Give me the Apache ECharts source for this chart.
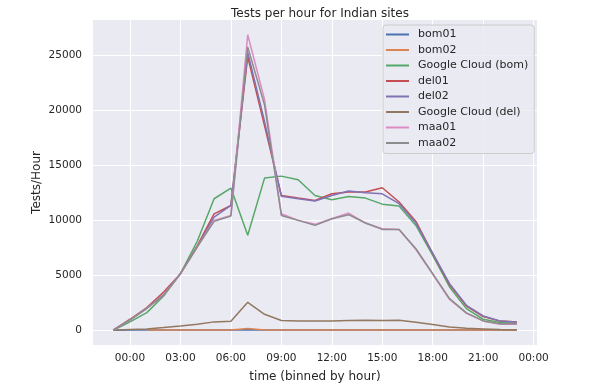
<!DOCTYPE html>
<html>
<head>
<meta charset="utf-8">
<script src="https://cdn.jsdelivr.net/npm/echarts/dist/echarts.min.js"></script>
<style>
html,body{margin:0;padding:0;background:#fff;}
#chart{width:599px;height:392px;}
</style>
</head>
<body>
<div id="chart"></div>
<script>
// Hours (binned): -1 = 23:00 of the previous day
const hours = [-1,0,1,2,3,4,5,6,7,8,9,10,11,12,13,14,15,16,17,18,19,20,21,22,23];
const xTicks = [0,3,6,9,12,15,18,21,24];
const yTicks = [0,5000,10000,15000,20000,25000];

const bom01 = [0,10,20,20,20,20,20,20,40,20,20,20,20,20,20,20,20,20,20,10,10,10,10,10,10];
const bom02 = [null,null,10,10,10,10,10,20,150,30,10,10,10,10,10,10,10,10,10,10,10,10,10,10,10];
const gcBom = [0,760,1600,3120,5150,8100,11970,12940,8640,13850,14030,13700,12270,11880,12180,12030,11480,11300,9545,6820,3940,1970,1000,700,620];
const del01 = [0,1000,2060,3480,5150,7700,10600,11360,24900,18600,12270,12030,11820,12420,12580,12580,12970,11670,9910,6970,4150,2200,1250,830,750];
const del02 = [0,950,2000,3240,5150,7600,10300,11360,25300,19000,12200,11970,11760,12270,12670,12520,12420,11520,9760,7000,4240,2270,1300,850,760];
const gcDel = [0,60,120,240,390,550,760,820,2545,1450,880,850,850,850,880,910,880,910,730,515,300,180,120,60,30];
const maa01 = [0,950,2000,3200,5150,7600,10000,10450,26900,21000,10600,10000,9640,10150,10670,9760,9240,9180,7350,5100,2800,1550,850,550,550];
const maa02 = [0,950,2000,3180,5150,7600,9910,10400,25800,20500,10450,10000,9545,10150,10520,9760,9180,9180,7420,5150,2880,1580,850,600,600];

const seriesNames = ['bom01','bom02','Google Cloud (bom)','del01','del02','Google Cloud (del)','maa01','maa02'];
const seriesData = [bom01,bom02,gcBom,del01,del02,gcDel,maa01,maa02];
const colors = ['#4C72B0','#DD8452','#55A868','#C44E52','#8172B3','#937860','#DA8BC3','#8C8C8C'];

const FONT = 'DejaVu Sans';
const TXT = '#262626';

// matplotlib-style 5% margins
const xMinD = Math.min(...hours), xMaxD = Math.max(...hours);
const xPad = (xMaxD - xMinD) * 0.05;
const allVals = seriesData.flat().filter(v => v !== null);
const yMinD = Math.min(...allVals), yMaxD = Math.max(...allVals);
const yPad = (yMaxD - yMinD) * 0.05;

function fmtHour(h){ const v = ((h % 24) + 24) % 24; return (v < 10 ? '0' : '') + v + ':00'; }

const chart = echarts.init(document.getElementById('chart'), null, {renderer:'canvas'});
chart.setOption({
  animation: false,
  backgroundColor: '#ffffff',
  color: colors,
  title: {
    text: 'Tests per hour for Indian sites',
    left: 315, top: 3, textAlign: 'center',
    textStyle: {fontFamily: FONT, fontSize: 12, fontWeight: 'normal', color: TXT}
  },
  legend: {
    orient: 'vertical', left: 383, top: 25,
    padding: [3, 6, 4, 3],
    backgroundColor: 'rgba(234,234,242,0.8)',
    borderColor: '#cccccc', borderWidth: 1, borderRadius: 3,
    icon: 'rect', itemWidth: 23, itemHeight: 2, itemGap: 2.5,
    textStyle: {fontFamily: FONT, fontSize: 11, color: TXT, lineHeight: 13, padding: [0,0,0,4]},
    data: seriesNames
  },
  grid: {left: 93, right: 62, top: 20, bottom: 47, show: true, backgroundColor: '#EAEAF2', borderWidth: 0, containLabel: false},
  xAxis: {
    type: 'value', min: xMinD - xPad, max: xMaxD + xPad,
    name: 'time (binned by hour)', nameLocation: 'middle', nameGap: 26,
    nameTextStyle: {fontFamily: FONT, fontSize: 12, color: TXT},
    axisLine: {show: false},
    axisTick: {show: false, customValues: xTicks},
    axisLabel: {customValues: xTicks, formatter: v => fmtHour(v), fontFamily: FONT, fontSize: 10.5, color: TXT, margin: 8},
    splitLine: {show: true, lineStyle: {color: '#ffffff', width: 1}}
  },
  yAxis: {
    type: 'value', min: yMinD - yPad, max: yMaxD + yPad,
    name: 'Tests/Hour', nameLocation: 'middle', nameGap: 50, nameMoveOverlap: false,
    nameTextStyle: {fontFamily: FONT, fontSize: 12, color: TXT},
    axisLine: {show: false},
    axisTick: {show: false, customValues: yTicks},
    axisLabel: {customValues: yTicks, formatter: v => String(Math.round(v)), fontFamily: FONT, fontSize: 10.5, color: TXT, margin: 11},
    splitLine: {show: true, lineStyle: {color: '#ffffff', width: 1}}
  },
  series: seriesNames.map((name, i) => ({
    name: name, type: 'line', showSymbol: false, symbol: 'none',
    lineStyle: {width: 1.5, color: colors[i]},
    itemStyle: {color: colors[i]},
    data: hours.map((h, k) => [h, seriesData[i][k]])
  }))
});
</script>
</body>
</html>
